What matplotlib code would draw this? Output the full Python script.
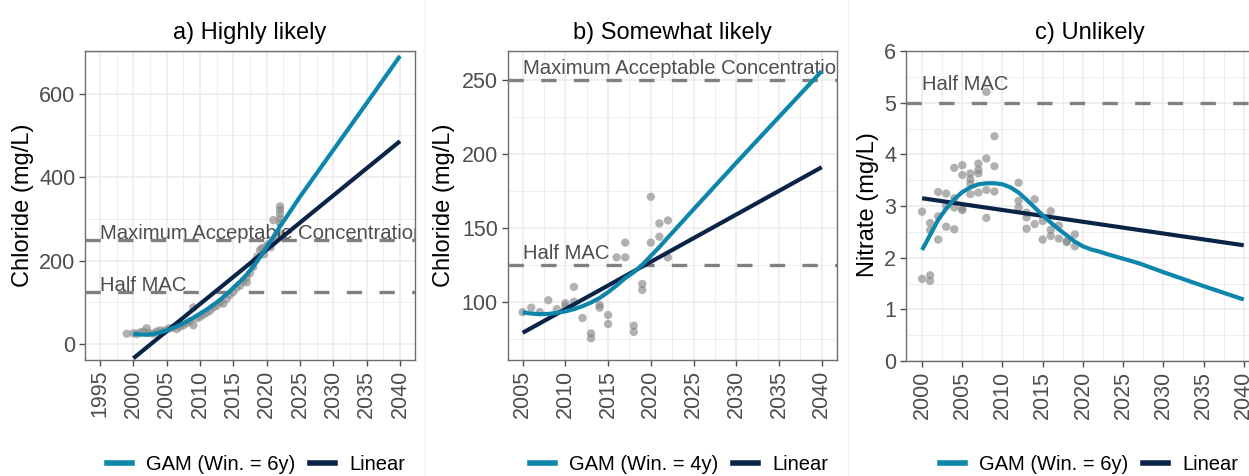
import matplotlib
matplotlib.use("Agg")
import matplotlib.pyplot as plt
from matplotlib.lines import Line2D

plt.rcParams['font.family'] = ['Liberation Sans', 'DejaVu Sans']

# ---------------- data ----------------
# a) Highly likely - chloride observations
a_obs_year = [1999.0, 2000.0, 2000.5, 2001.0, 2001.5, 2002.0, 2002.3, 2003.0, 2003.5, 2004.0,
              2004.5, 2005.0, 2005.5, 2006.0, 2006.5, 2007.0, 2007.5, 2008.0, 2008.5, 2009.0,
              2009.0, 2009.5, 2010.0, 2010.5, 2011.0, 2011.5, 2012.0, 2012.5, 2013.0, 2013.5,
              2014.0, 2014.5, 2015.0, 2015.5, 2016.0, 2016.5, 2017.0, 2017.0, 2017.5, 2018.0,
              2018.3, 2018.6, 2019.0, 2019.3, 2019.6, 2020.0, 2020.3, 2020.6, 2021.0, 2021.0,
              2021.5, 2022.0, 2022.0, 2022.0, 2022.0, 2022.0, 2022.0]
a_obs_value = [25, 26, 24, 28, 30, 38, 27, 25, 30, 33,
               30, 35, 38, 40, 36, 42, 45, 50, 55, 45,
               88, 62, 65, 70, 75, 80, 88, 92, 100, 97,
               108, 118, 125, 135, 140, 150, 148, 160, 170, 185,
               200, 210, 225, 230, 215, 235, 240, 232, 245, 297,
               255, 300, 312, 322, 330, 290, 265]
a_gam_year = [2000, 2001, 2002, 2003, 2004, 2005, 2006, 2007, 2008, 2009, 2010, 2011, 2012,
              2013, 2014, 2015, 2016, 2017, 2018, 2019, 2020, 2021, 2022, 2023, 2025, 2030,
              2035, 2040]
a_gam_value = [25, 23, 22.5, 24, 28, 33, 39, 46, 54, 63, 73, 83, 94,
               106, 120, 135, 150, 166, 186, 208, 232, 257, 282, 305, 353, 465,
               577, 690]
a_lin_year = [2000, 2040]
a_lin_value = [-34, 486]

# b) Somewhat likely - chloride observations
b_obs_year = [2005, 2006, 2007, 2008, 2009, 2010, 2010, 2011, 2011, 2012,
              2013, 2013, 2014, 2014, 2015, 2015, 2016, 2017, 2017, 2018,
              2018, 2019, 2019, 2020, 2020, 2021, 2021, 2022, 2022]
b_obs_value = [93, 96, 93, 101, 95, 99, 97, 110, 100, 89,
               78.6, 75.3, 97.8, 96, 91, 85, 130, 140, 130, 83.8,
               79.6, 112, 108, 171, 140, 153, 144, 155, 130]
b_gam_year = [2005, 2006, 2007, 2008, 2009, 2010, 2011, 2012, 2013, 2014, 2015, 2016,
              2017, 2018, 2019, 2020, 2021, 2022, 2023, 2025, 2030, 2035, 2040]
b_gam_value = [92.8, 92.0, 91.6, 91.8, 92.5, 93.5, 95.0, 97.0, 99.5, 102.5, 106.5, 111.0,
               116.0, 120.0, 125.0, 131.0, 137.0, 143.5, 149.8, 162.5, 194.0, 225.0, 256.0]
b_lin_year = [2005, 2040]
b_lin_value = [79, 191]

# c) Unlikely - nitrate observations
c_obs_year = [2000, 2000, 2001, 2001, 2001, 2001, 2002, 2002, 2002, 2003,
              2003, 2003, 2004, 2004, 2004, 2004, 2005, 2005, 2005, 2005,
              2006, 2006, 2006, 2006, 2007, 2007, 2007, 2007, 2008, 2008,
              2008, 2008, 2009, 2009, 2009, 2012, 2012, 2012, 2013, 2013,
              2013, 2014, 2014, 2015, 2015, 2016, 2016, 2016, 2017, 2017,
              2018, 2018, 2019, 2019]
c_obs_value = [2.89, 1.59, 1.66, 1.55, 2.67, 2.53, 3.27, 2.80, 2.35, 3.24,
               3.00, 2.60, 3.74, 2.97, 2.55, 3.15, 3.79, 3.60, 2.95, 2.92,
               3.63, 3.52, 3.43, 3.23, 3.82, 3.70, 3.63, 3.26, 5.21, 3.92,
               3.31, 2.77, 4.35, 3.77, 3.28, 3.45, 3.10, 2.97, 2.87, 2.78,
               2.56, 3.13, 2.65, 2.71, 2.35, 2.90, 2.54, 2.42, 2.62, 2.37,
               2.32, 2.30, 2.45, 2.22]
c_gam_year = [2000, 2001, 2002, 2003, 2004, 2005, 2006, 2007, 2008, 2009, 2010, 2011,
              2012, 2013, 2014, 2015, 2016, 2017, 2018, 2019, 2020, 2021, 2022, 2023,
              2025, 2027, 2030, 2035, 2040]
c_gam_value = [2.15, 2.44, 2.73, 2.95, 3.13, 3.27, 3.36, 3.42, 3.44, 3.44, 3.42, 3.36,
               3.26, 3.12, 2.97, 2.82, 2.68, 2.55, 2.43, 2.31, 2.22, 2.16, 2.12, 2.07,
               1.98, 1.89, 1.72, 1.45, 1.19]
c_lin_year = [2000, 2040]
c_lin_value = [3.15, 2.24]

titles = ["a) Highly likely", "b) Somewhat likely", "c) Unlikely"]
ylabels = ["Chloride (mg/L)", "Chloride (mg/L)", "Nitrate (mg/L)"]
gam_labels = ["GAM (Win. = 6y)", "GAM (Win. = 4y)", "GAM (Win. = 6y)"]
lin_label = "Linear"

# ---------------- style ----------------
GAM_COL = "#0E86AB"
LIN_COL = "#0A2448"
PT_COL = "#888888"
REF_COL = "#808080"
TXT_COL = "#4D4D4D"
GRID_COL = "#EBEBEB"

W, H = 1249, 476
fig = plt.figure(figsize=(W / 100, H / 100), dpi=100)


def px_axes(left, right, top, bottom):
    return fig.add_axes([left / W, 1 - bottom / H, (right - left) / W, (bottom - top) / H])


def style_axes(ax, xmajor, xminor, ymajor, yminor):
    ax.set_xticks(xmajor)
    ax.set_xticks(xminor, minor=True)
    ax.set_yticks(ymajor)
    ax.set_yticks(yminor, minor=True)
    ax.grid(True, which='major', color=GRID_COL, lw=1.1, zorder=0)
    ax.grid(True, which='minor', color=GRID_COL, lw=0.6, zorder=0)
    ax.set_axisbelow(True)
    for s in ax.spines.values():
        s.set_color("#6E6E6E")
        s.set_linewidth(1.0)
    ax.tick_params(which='major', length=4, width=1.0, color="#4D4D4D",
                   labelsize=15.5, labelcolor=TXT_COL, pad=3)
    ax.tick_params(which='minor', length=0)
    ax.tick_params(axis='x', labelrotation=90)


def draw_panel(ax, oy, ov, gy, gv, ly, lv, refs, text_x, xlim, ylim, title, ylabel, ylabel_x):
    ax.scatter(oy, ov, s=36, color=PT_COL, alpha=0.65, edgecolors='none', zorder=2)
    for val, lab, dy in refs:
        ax.axhline(val, color=REF_COL, lw=2.4, linestyle=(0, (4.6, 5.2)), zorder=3)
        ax.text(text_x, val + dy, lab, fontsize=14.6,
                color=TXT_COL, ha='left', va='baseline', clip_on=True, zorder=4)
    ax.plot(ly, lv, color=LIN_COL, lw=3.0, solid_capstyle='butt', zorder=5)
    ax.plot(gy, gv, color=GAM_COL, lw=3.0, solid_capstyle='butt', zorder=6)
    ax.set_xlim(*xlim)
    ax.set_ylim(*ylim)
    ax.set_title(title, fontsize=17, pad=9)
    ax.set_ylabel(ylabel, fontsize=17, va='center')
    ax.yaxis.set_label_coords(ylabel_x, 0.5, transform=fig.transFigure)
    ax.yaxis.label.set_y((H - 205) / H)


# a
ax_a = px_axes(85, 415, 51, 360)
style_axes(ax_a, list(range(1995, 2041, 5)), [1997.5 + 5 * i for i in range(9)],
           [0, 200, 400, 600], [100, 300, 500, 700])
draw_panel(ax_a, a_obs_year, a_obs_value, a_gam_year, a_gam_value, a_lin_year, a_lin_value,
           [(250, "Maximum Acceptable Concentration", 2), (125, "Half MAC", 2)], 1995,
           (1992.75, 2042.25), (-38, 702), titles[0], ylabels[0], 23 / W)

# b
ax_b = px_axes(507.7, 836.7, 51, 360)
style_axes(ax_b, list(range(2005, 2041, 5)), [2007.5 + 5 * i for i in range(7)],
           [100, 150, 200, 250], [75, 125, 175, 225])
draw_panel(ax_b, b_obs_year, b_obs_value, b_gam_year, b_gam_value, b_lin_year, b_lin_value,
           [(250, "Maximum Acceptable Concentration", 4), (125, "Half MAC", 4)], 2005,
           (2003.25, 2041.75), (60.6, 269.6), titles[1], ylabels[1], 444 / W)

# c
ax_c = px_axes(906, 1259.8, 51, 361)
style_axes(ax_c, list(range(2000, 2041, 5)), [2002.5 + 5 * i for i in range(8)],
           [0, 1, 2, 3, 4, 5, 6], [0.5, 1.5, 2.5, 3.5, 4.5, 5.5])
draw_panel(ax_c, c_obs_year, c_obs_value, c_gam_year, c_gam_value, c_lin_year, c_lin_value,
           [(5, "Half MAC", 0.25)], 2000,
           (1998, 2042), (0, 6), titles[2], ylabels[2], 868 / W)
ax_c.title.set_position((0.52, 1.0))

# panel separators
for xs in (425, 848):
    fig.add_artist(Line2D([xs / W, xs / W], [0, 1], transform=fig.transFigure,
                          color="#F2F2F2", lw=1.0))

# legends
for cx, glab in zip((256, 679, 1089), gam_labels):
    handles = [Line2D([], [], color=GAM_COL, lw=4), Line2D([], [], color=LIN_COL, lw=4)]
    fig.legend(handles, [glab, lin_label], loc='center', ncol=2,
               bbox_to_anchor=(cx / W, 1 - 465 / H), frameon=False, fontsize=14.5,
               handlelength=1.25, handletextpad=0.7, columnspacing=0.75,
               borderpad=0, borderaxespad=0)

fig.savefig("out.png", dpi=100)
